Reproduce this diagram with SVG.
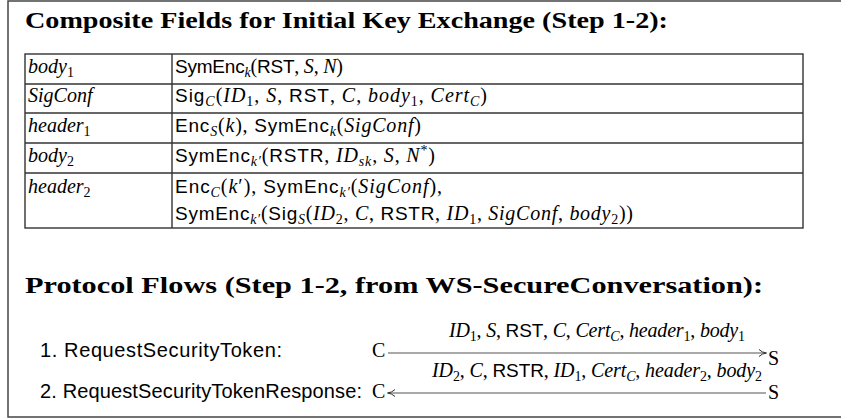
<svg xmlns="http://www.w3.org/2000/svg" width="841" height="420" viewBox="0 0 841 420">
<defs>
<style>
.t{font-family:"Liberation Serif",serif;font-size:20px;fill:#000}
.h{font-family:"Liberation Serif",serif;font-size:24px;font-weight:bold;fill:#000}
.sf{font-family:"Liberation Sans",sans-serif;font-size:19px}
.fl{font-family:"Liberation Sans",sans-serif;font-size:20px;fill:#000}
.it{font-style:italic}
.sb{font-size:14px}
.ln{stroke:#333;stroke-width:1.4;fill:none}
.ar{stroke:#555;stroke-width:1.2;fill:none}
</style>
<marker id="ah" viewBox="0 0 10 10" refX="9" refY="5" markerWidth="10" markerHeight="10" markerUnits="userSpaceOnUse" orient="auto-start-reverse">
<path d="M2,1.5 Q5,4.5 9.5,5 Q5,5.5 2,8.5" fill="none" stroke="#333" stroke-width="1"/>
</marker>
</defs>
<rect x="8" y="1" width="850" height="416" fill="#fff" stroke="#444" stroke-width="1.5"/>

<g id="title1"><text class="h" x="25" y="28" textLength="643" lengthAdjust="spacingAndGlyphs">Composite Fields for Initial Key Exchange (Step 1-2):</text></g>

<g id="table">
<rect class="ln" x="25" y="54" width="778" height="174"/>
<line class="ln" x1="25" y1="84" x2="803" y2="84"/>
<line class="ln" x1="25" y1="113" x2="803" y2="113"/>
<line class="ln" x1="25" y1="143" x2="803" y2="143"/>
<line class="ln" x1="25" y1="173" x2="803" y2="173"/>
<line class="ln" x1="172" y1="54" x2="172" y2="228"/>
</g>

<g id="row1">
<text class="t" x="28" y="73"><tspan class="it">body</tspan><tspan class="sb" dy="4">1</tspan></text>
<text class="t" x="175" y="73" textLength="168"><tspan class="sf">SymEnc</tspan><tspan class="sb it" dy="4">k</tspan><tspan dy="-4">(</tspan><tspan class="sf">RST</tspan>, <tspan class="it">S</tspan>, <tspan class="it">N</tspan>)</text>
</g>
<g id="row2">
<text class="t" x="28" y="102"><tspan class="it">SigConf</tspan></text>
<text class="t" x="175" y="102" textLength="312"><tspan class="sf">Sig</tspan><tspan class="sb it" dy="4">C</tspan><tspan dy="-4">(</tspan><tspan class="it">ID</tspan><tspan class="sb" dy="4">1</tspan><tspan dy="-4">, </tspan><tspan class="it">S</tspan>, <tspan class="sf">RST</tspan>, <tspan class="it">C</tspan>, <tspan class="it">body</tspan><tspan class="sb" dy="4">1</tspan><tspan dy="-4">, </tspan><tspan class="it">Cert</tspan><tspan class="sb it" dy="4">C</tspan><tspan dy="-4">)</tspan></text>
</g>
<g id="row3">
<text class="t" x="28" y="132"><tspan class="it">header</tspan><tspan class="sb" dy="4">1</tspan></text>
<text class="t" x="175" y="132" textLength="246"><tspan class="sf">Enc</tspan><tspan class="sb it" dy="4">S</tspan><tspan dy="-4">(</tspan><tspan class="it">k</tspan>), <tspan class="sf">SymEnc</tspan><tspan class="sb it" dy="4">k</tspan><tspan dy="-4">(</tspan><tspan class="it">SigConf</tspan>)</text>
</g>
<g id="row4">
<text class="t" x="28" y="162"><tspan class="it">body</tspan><tspan class="sb" dy="4">2</tspan></text>
<text class="t" x="175" y="162" textLength="260"><tspan class="sf">SymEnc</tspan><tspan class="sb it" dy="4">k′</tspan><tspan dy="-4">(</tspan><tspan class="sf">RSTR</tspan>, <tspan class="it">ID</tspan><tspan class="sb it" dy="4">sk</tspan><tspan dy="-4">, </tspan><tspan class="it">S</tspan>, <tspan class="it">N</tspan><tspan class="sb" dy="-7">*</tspan><tspan dy="7">)</tspan></text>
</g>
<g id="row5">
<text class="t" x="28" y="193"><tspan class="it">header</tspan><tspan class="sb" dy="4">2</tspan></text>
<text class="t" x="175" y="193" textLength="267"><tspan class="sf">Enc</tspan><tspan class="sb it" dy="4">C</tspan><tspan dy="-4">(</tspan><tspan class="it">k</tspan>′), <tspan class="sf">SymEnc</tspan><tspan class="sb it" dy="4">k′</tspan><tspan dy="-4">(</tspan><tspan class="it">SigConf</tspan>),</text>
<text class="t" x="175" y="220" textLength="458"><tspan class="sf">SymEnc</tspan><tspan class="sb it" dy="4">k′</tspan><tspan dy="-4">(</tspan><tspan class="sf">Sig</tspan><tspan class="sb it" dy="4">S</tspan><tspan dy="-4">(</tspan><tspan class="it">ID</tspan><tspan class="sb" dy="4">2</tspan><tspan dy="-4">, </tspan><tspan class="it">C</tspan>, <tspan class="sf">RSTR</tspan>, <tspan class="it">ID</tspan><tspan class="sb" dy="4">1</tspan><tspan dy="-4">, </tspan><tspan class="it">SigConf</tspan>, <tspan class="it">body</tspan><tspan class="sb" dy="4">2</tspan><tspan dy="-4">))</tspan></text>
</g>

<g id="title2"><text class="h" x="25" y="293" textLength="738" lengthAdjust="spacingAndGlyphs">Protocol Flows (Step 1-2, from WS-SecureConversation):</text></g>

<g id="flow1">
<text class="fl" x="40" y="357" textLength="242">1. RequestSecurityToken:</text>
<text class="t" x="372" y="357">C</text>
<text class="t" x="768" y="365">S</text>
<text class="t" x="449" y="337" textLength="296"><tspan class="it">ID</tspan><tspan class="sb" dy="4">1</tspan><tspan dy="-4">, </tspan><tspan class="it">S</tspan>, <tspan class="sf">RST</tspan>, <tspan class="it">C</tspan>, <tspan class="it">Cert</tspan><tspan class="sb it" dy="4">C</tspan><tspan dy="-4">, </tspan><tspan class="it">header</tspan><tspan class="sb" dy="4">1</tspan><tspan dy="-4">, </tspan><tspan class="it">body</tspan><tspan class="sb" dy="4">1</tspan></text>
</g>
<g id="flow2">
<text class="fl" x="40" y="398" textLength="322">2. RequestSecurityTokenResponse:</text>
<text class="t" x="372" y="398">C</text>
<text class="t" x="768" y="399">S</text>
<text class="t" x="432" y="377" textLength="330"><tspan class="it">ID</tspan><tspan class="sb" dy="4">2</tspan><tspan dy="-4">, </tspan><tspan class="it">C</tspan>, <tspan class="sf">RSTR</tspan>, <tspan class="it">ID</tspan><tspan class="sb" dy="4">1</tspan><tspan dy="-4">, </tspan><tspan class="it">Cert</tspan><tspan class="sb it" dy="4">C</tspan><tspan dy="-4">, </tspan><tspan class="it">header</tspan><tspan class="sb" dy="4">2</tspan><tspan dy="-4">, </tspan><tspan class="it">body</tspan><tspan class="sb" dy="4">2</tspan></text>
</g>

<g id="connectors">
<line class="ar" x1="388" y1="353" x2="766" y2="353" marker-end="url(#ah)"/>
<line class="ar" x1="766" y1="393" x2="388" y2="393" marker-end="url(#ah)"/>
</g>
</svg>
